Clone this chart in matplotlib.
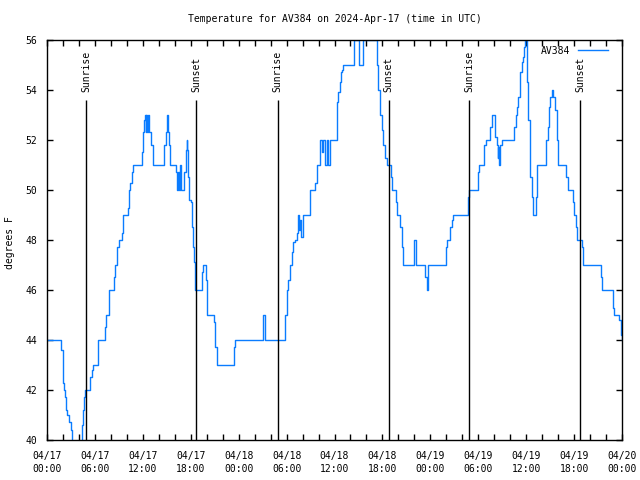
import pandas as pd
import matplotlib
matplotlib.use("Agg")
import matplotlib.pyplot as plt
import matplotlib.dates as mdates

# readings: hours after 2024-04-17 00:00 UTC and temperature in F
hours = [
    0, 1.71, 1.80, 1.96, 2.04, 2.13, 2.25, 2.38, 2.55, 2.75, 2.96, 3.10, 3.60,
    4.13, 4.34, 4.55, 4.68, 4.76, 5.30, 5.38, 5.60, 5.80, 6.22, 6.43, 7.14,
    7.26, 7.35, 7.68, 7.76, 8.30, 8.39, 8.55, 8.80, 8.97, 9.27, 9.35, 9.48,
    10.06, 10.14, 10.23, 10.39, 10.60, 10.81, 11.85, 11.94, 12.06, 12.19,
    12.27, 12.35, 12.45, 12.55, 12.68, 12.80, 13.02, 13.23, 13.31, 14.56,
    14.69, 14.86, 14.98, 15.11, 15.27, 15.40, 16.03, 16.15, 16.24, 16.36,
    16.53, 16.65, 16.78, 17.07, 17.19, 17.40, 17.49, 17.57, 17.69, 17.82,
    17.99, 18.12, 18.24, 18.41, 18.53, 19.37, 19.45, 19.57, 19.78, 19.87,
    20.08, 20.83, 20.91, 21.04, 21.24, 23.33, 23.41, 23.54,
    26.88, 27.00, 27.20, 27.34, 29.72, 29.80, 30.00, 30.20, 30.40, 30.64,
    30.85, 31.06, 31.26, 31.47, 31.60, 31.72, 31.85, 32.10, 32.80, 32.93,
    33.56, 33.77, 34.18, 34.40, 34.60, 34.80, 35.00, 35.20, 35.40, 36.19,
    36.36, 36.48, 36.69, 36.80, 36.90, 37.10, 38.36, 38.50, 39.00, 39.11,
    39.50, 39.62, 41.07, 41.28, 41.49, 41.69, 41.90, 42.10, 42.32, 42.53,
    42.86, 43.03, 43.16, 43.57, 43.66, 43.78, 43.99, 44.20, 44.41, 44.62,
    45.87, 45.95, 46.16, 47.21, 47.33, 47.54, 47.75,
    49.84, 49.96, 50.13, 50.46, 50.67, 50.88, 52.63, 52.76, 52.88, 53.88,
    54.01, 54.14, 54.64, 54.76, 54.93, 55.35, 55.47, 55.68, 55.89, 56.10,
    56.31, 56.43, 56.52, 56.64, 56.72, 56.93, 58.39, 58.52, 58.69, 58.81,
    59.02, 59.23, 59.44, 59.65, 59.77, 59.90, 60.06, 60.15, 60.27, 60.48,
    60.69, 60.90, 61.11, 61.23, 61.40, 62.36, 62.48, 62.69, 62.86, 62.98,
    63.19, 63.40, 63.61, 63.82, 63.94, 64.86, 64.99, 65.20, 65.70, 65.82,
    66.03, 66.20, 66.32, 66.87, 66.95, 67.16, 69.25, 69.37, 69.46, 70.71,
    70.84, 71.00, 71.55, 71.67, 71.84, 72.00,
]
temps = [
    44, 44, 43.6, 43.0, 42.3, 42.0, 41.7, 41.2, 41.0, 40.7, 40.4, 39.7, 39.4,
    39.8, 40.6, 41.2, 41.7, 42.0, 42.0, 42.5, 42.8, 43.0, 43.0, 44.0, 44.0,
    44.5, 45.0, 45.0, 46.0, 46.0, 46.5, 47.0, 47.7, 48.0, 48.0, 48.3, 49.0,
    49.0, 49.3, 50.0, 50.3, 50.7, 51.0, 51.0, 51.5, 52.3, 52.8,
    53.0, 52.3, 53.0, 52.3, 53.0, 52.3, 51.8, 51.3, 51.0, 51.0,
    51.8, 52.3, 53.0, 52.3, 51.8, 51.0, 51.0, 50.7, 50.0, 50.7,
    50.0, 51.0, 50.0, 50.0, 50.7, 51.6, 52.0, 51.6, 50.5, 49.6,
    49.5, 48.5, 47.7, 47.1, 46.0, 46.0, 46.7, 47.0, 47.0, 46.4,
    45.0, 45.0, 44.7, 43.7, 43.0, 43.0, 43.7, 44.0,
    44.0, 45.0, 45.0, 44.0, 44.0, 45.0, 46.0, 46.4, 47.0, 47.5,
    47.9, 48.0, 48.3, 49.0, 48.4, 48.8, 48.1, 49.0, 49.0, 50.0,
    50.3, 51.0, 52.0, 51.5, 52.0, 51.0, 52.0, 51.0, 52.0, 52.0,
    53.5, 53.9, 54.3, 54.7, 54.8, 55.0, 55.0, 56.0, 56.0, 55.0,
    55.0, 56.0, 56.0, 55.0, 54.0, 53.0, 52.4, 51.8, 51.3, 51.0,
    51.0, 50.5, 50.0, 50.0, 49.5, 49.0, 49.0, 48.5, 47.7, 47.0,
    47.0, 48.0, 47.0, 47.0, 46.5, 46.0, 47.0,
    47.0, 47.7, 48.0, 48.5, 48.8, 49.0, 49.0, 49.7, 50.0, 50.0,
    50.7, 51.0, 51.0, 51.8, 52.0, 52.0, 52.5, 53.0, 53.0, 52.1,
    51.8, 51.3, 51.7, 51.0, 51.8, 52.0, 52.0, 52.5, 53.0, 53.3,
    53.7, 54.7, 55.1, 55.3, 55.7, 56.0, 55.3, 54.3, 52.8, 50.5,
    49.7, 49.0, 49.0, 49.7, 51.0, 51.0, 52.0, 52.5, 53.3, 53.7,
    54.0, 53.7, 53.2, 52.0, 51.0, 51.0, 50.5, 50.0, 50.0, 49.5,
    49.0, 48.5, 48.0, 48.0, 47.7, 47.0, 47.0, 46.5, 46.0, 46.0,
    45.3, 45.0, 45.0, 44.8, 44.2, 44.0,
]

sunrise = ["2024-04-17 04:56", "2024-04-18 04:53", "2024-04-19 04:53"]
sunset = ["2024-04-17 18:40", "2024-04-18 18:47", "2024-04-19 18:47"]

start = pd.Timestamp("2024-04-17 00:00")
times = start + pd.to_timedelta(hours, unit="h")

plt.rcParams["font.family"] = "DejaVu Sans Mono"
fs = 7

fig = plt.figure(figsize=(6.4, 4.8), dpi=100)
ax = fig.add_axes([47 / 640, 40 / 480, 575 / 640, 400 / 480])

ax.plot(times, temps, color="#0a7cff", linewidth=1.0, label="AV384",
        drawstyle="steps-post")

# sunrise / sunset markers
for label, stamps in (("Sunrise", sunrise), ("Sunset", sunset)):
    for s in stamps:
        t = pd.Timestamp(s)
        ax.vlines(t, 40, 53.6, color="black", linewidth=1.0)
        ax.text(t, 53.9, label, rotation=90, ha="center", va="bottom",
                fontsize=fs)

ax.set_xlim(start, start + pd.Timedelta(hours=72))
ax.set_ylim(40, 56)
ax.set_yticks(range(40, 57, 2))

ax.xaxis.set_major_locator(mdates.HourLocator(byhour=range(0, 24, 6)))
ax.xaxis.set_minor_locator(mdates.HourLocator(byhour=range(0, 24, 2)))
ax.xaxis.set_major_formatter(mdates.DateFormatter("%m/%d\n%H:%M"))
for lab in ax.get_xticklabels():
    lab.set_linespacing(1.3)

ax.tick_params(axis="both", which="both", direction="in", top=True,
               right=True, length=4, width=1, labelsize=fs)
ax.tick_params(axis="x", pad=8)
ax.tick_params(axis="y", pad=7)
for sp in ax.spines.values():
    sp.set_linewidth(1.0)

# title centred over the plot area, like gnuplot does
fig.text((47 + 622) / 2 / 640, 1 - 19 / 480,
         "Temperature for AV384 on 2024-Apr-17 (time in UTC)",
         ha="center", va="center", fontsize=fs)
fig.text(10 / 640, 0.494, "degrees F", rotation=90, ha="center",
         va="center", fontsize=fs)

ax.legend(loc="upper right", frameon=False, markerfirst=False,
          handlelength=3.0, borderaxespad=0.2, fontsize=fs,
          bbox_to_anchor=(0.985, 1.0))

fig.savefig("out.png", dpi=100)
